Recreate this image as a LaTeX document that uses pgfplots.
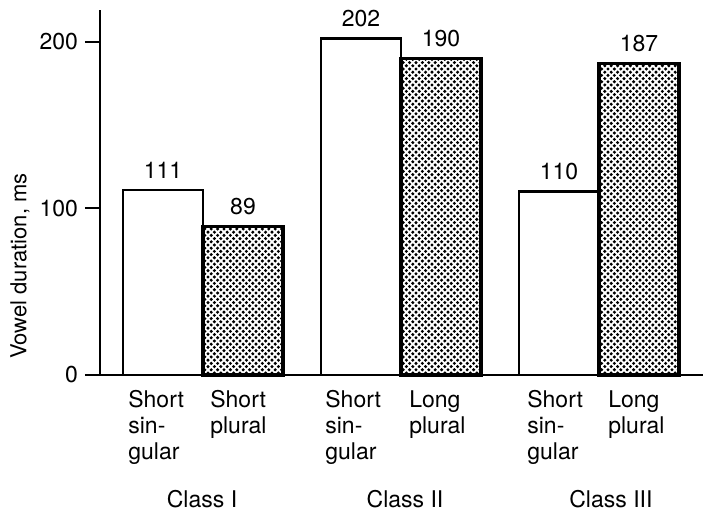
\documentclass[border=0pt]{standalone}
\usepackage{fontspec}
\setmainfont{TeX Gyre Heros}
\usepackage{pgfplots}
\pgfplotsset{compat=1.18}
\usetikzlibrary{patterns}
\pgfdeclarepatternformonly{bigdots}{\pgfqpoint{-1pt}{-1pt}}{\pgfqpoint{4pt}{4pt}}{\pgfqpoint{3.2pt}{3.2pt}}{%
  \pgfpathcircle{\pgfqpoint{0pt}{0pt}}{.85pt}%
  \pgfpathcircle{\pgfqpoint{1.6pt}{1.6pt}}{.85pt}%
  \pgfusepath{fill}}
\begin{document}
\begin{tikzpicture}
\useasboundingbox (0,0) rectangle (351.5pt,258.5pt);
\begin{axis}[
  at={(50pt,71pt)}, anchor=south west,
  scale only axis, width=301.5pt, height=182.5pt,
  xmin=0.4798, xmax=3.525, ymin=0, ymax=219,
  axis x line=bottom, axis y line=left,
  axis line style={-, line width=1pt},
  ytick={0,100,200},
  tick align=outside, major tick length=7.5pt,
  ytick style={line width=1pt, black},
  xtick={0.621,1.035,1.616,2.040,2.636,3.045},
  xticklabels={{Short\\sin-\\gular},{Short\\plural},{Short\\sin-\\gular},{Long\\plural},{Short\\sin-\\gular},{Long\\plural}},
  xticklabel style={align=left, anchor=north west, inner sep=0pt, font=\fontsize{11.5}{13}\selectfont},
  xtick style={draw=none},
  yticklabel style={font=\fontsize{11.5}{13}\selectfont},
  /pgf/number format/assume math mode=true,
  ybar, bar width=0.404,
  nodes near coords,
  every node near coord/.append style={font=\fontsize{11.5}{13}\selectfont, inner sep=0pt, yshift=5pt, black},
  clip=false,
]
\addplot[fill=white, draw=black, line width=1.4pt, bar shift=-0.202] coordinates {(1,111) (2,202) (3,110)};
\addplot[pattern=bigdots, draw=black, line width=1.8pt, bar shift=0.202] coordinates {(1,89) (2,190) (3,187)};
\node[anchor=base, font=\fontsize{11.5}{13}\selectfont, yshift=-66.5pt] at (axis cs:0.995,0) {Class I};
\node[anchor=base, font=\fontsize{11.5}{13}\selectfont, yshift=-66.5pt] at (axis cs:2.02,0) {Class II};
\node[anchor=base, font=\fontsize{11.5}{13}\selectfont, yshift=-66.5pt] at (axis cs:3.06,0) {Class III};
\end{axis}
\node[rotate=90, font=\fontsize{11}{13}\selectfont] at (10pt,125.5pt) {Vowel duration, ms};
\end{tikzpicture}
\end{document}
